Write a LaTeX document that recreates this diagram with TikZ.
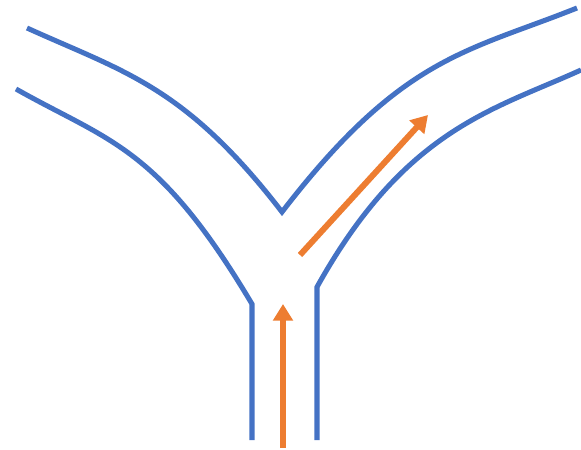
\documentclass[tikz,border=0pt]{standalone}
\usetikzlibrary{arrows.meta}
\definecolor{pipeblue}{HTML}{4472C4}
\definecolor{floworange}{HTML}{ED7D31}

\begin{document}
\begin{tikzpicture}[
  x=0.03cm, y=-0.03cm,
  wall/.style = {draw=pipeblue, line width=4.3pt, line join=miter},
  flow/.style = {draw=floworange, line width=5.1pt,
                 -{Triangle[length=0.5cm, width=0.58cm]}}
]
\useasboundingbox (0,0) rectangle (581,450);

% outer wall: left branch, crotch, right branch
\draw[wall] (27,28) .. controls (124,72) and (185,86) .. (282,212)
  .. controls (402,56) and (467,52) .. (577,8);

% left wall into the stem
\draw[wall] (16,89) .. controls (110,142) and (158,146) .. (252,304)
  -- (252,440);

% right wall into the stem
\draw[wall] (317,440) -- (317,287)
  .. controls (405,129) and (493,110) .. (581,70);

% flow arrows
\coordinate (inlet) at (283,448);
\coordinate (stem) at (283,304);
\coordinate (branch0) at (300,255);
\coordinate (branch1) at (428,115);
\draw[flow] (inlet) -- (stem);
\draw[flow] (branch0) -- (branch1);

\end{tikzpicture}
\end{document}
